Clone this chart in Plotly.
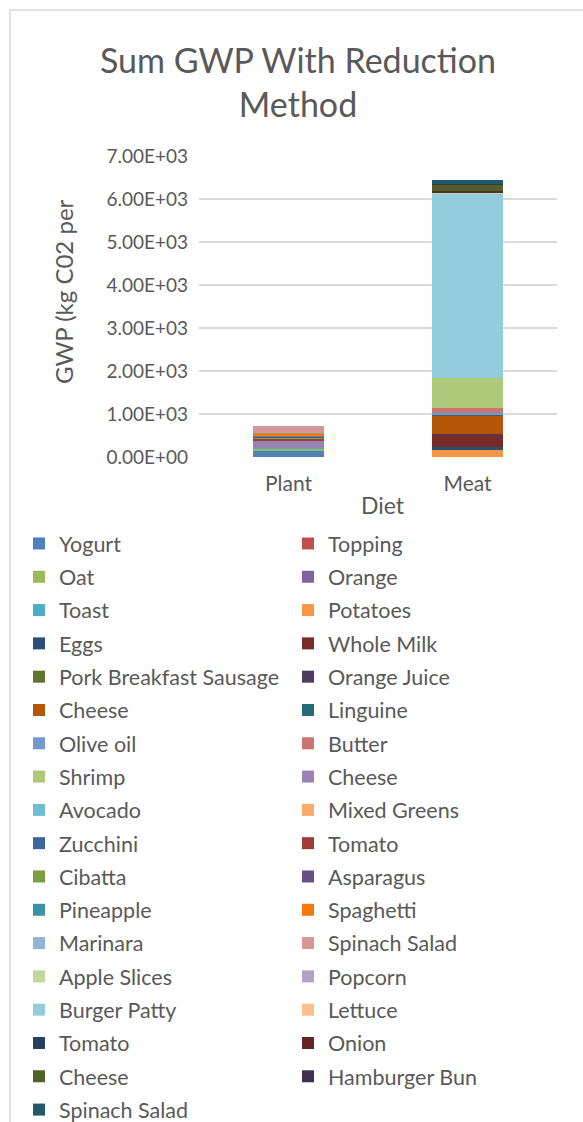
import plotly.graph_objects as go

# ---- data ----
categories = ["Plant", "Meat"]
series_names = ["Yogurt", "Topping", "Oat", "Orange", "Toast", "Potatoes", "Eggs", "Whole Milk",
                "Pork Breakfast Sausage", "Orange Juice", "Cheese", "Linguine", "Olive oil", "Butter",
                "Shrimp", "Cheese", "Avocado", "Mixed Greens", "Zucchini", "Tomato", "Cibatta",
                "Asparagus", "Pineapple", "Spaghetti", "Marinara", "Spinach Salad", "Apple Slices",
                "Popcorn", "Burger Patty", "Lettuce", "Tomato", "Onion", "Cheese", "Hamburger Bun",
                "Spinach Salad"]
plant_values = [147, 10, 30, 15, 10, 0, 0, 0, 0, 0, 0, 0, 0, 0, 0, 160, 20, 0, 0, 40, 10, 40, 5,
                85, 20, 110, 5, 5, 0, 0, 0, 0, 0, 0, 0]
meat_values = [0, 0, 0, 0, 0, 185, 40, 290, 0, 30, 420, 30, 40, 95, 700, 0, 0, 0, 0, 0, 0, 0, 0,
               0, 0, 0, 0, 0, 4300, 25, 10, 10, 160, 15, 95]
series_colors = ["#4F81BD", "#C0504D", "#9BBB59", "#8064A2", "#4BACC6", "#F79646", "#2C4D75",
                 "#772C2A", "#5F7530", "#4D3B62", "#B65708", "#276A7C", "#729ACA", "#CD7371",
                 "#AFC97A", "#9983B5", "#6FBDD1", "#F9AB6B", "#3A679C", "#9F3B38", "#7E9C40",
                 "#664F83", "#3A91A8", "#F27A0D", "#95B3D7", "#D99694", "#C3D69B", "#B3A2C7",
                 "#93CDDD", "#FAC090", "#254061", "#632523", "#4F6228", "#3F3151", "#215968"]
y_tick_values = [0, 1000, 2000, 3000, 4000, 5000, 6000, 7000]
y_tick_labels = ["0.00E+00", "1.00E+03", "2.00E+03", "3.00E+03", "4.00E+03", "5.00E+03",
                 "6.00E+03", "7.00E+03"]

W, H = 583, 1122
FONT = "Lato"
GREY = "#595959"
LEG_SIZE = 21.5

fig = go.Figure()
for i, name in enumerate(series_names):
    fig.add_trace(go.Bar(
        x=categories, y=[plant_values[i], meat_values[i]], name=name,
        marker=dict(color=series_colors[i], line=dict(width=0)),
        legend="legend" if i % 2 == 0 else "legend2",
        legendgroup="g%d" % i,
    ))

# plot area pixel geometry
L, R, T, B = 199, 557, 156, 457
def px_x(p):
    return (p - L) / (R - L)
def px_y(p):
    return 1 - (p - T) / (B - T)

row_h = LEG_SIZE * 1.3 + 3
leg_common = dict(
    xref="container", yref="container", orientation="v", yanchor="top", xanchor="left",
    bgcolor="rgba(0,0,0,0)", font=dict(family=FONT, size=LEG_SIZE, color=GREY),
    tracegroupgap=33.3 - row_h, itemclick=False, itemdoubleclick=False,
)

fig.update_layout(
    width=W, height=H, barmode="stack", bargap=0.6,
    paper_bgcolor="white", plot_bgcolor="white",
    margin=dict(l=L, r=W - R, t=T, b=H - B, autoexpand=False),
    font=dict(family=FONT, color=GREY),
    title=dict(text="Sum GWP With Reduction<br>Method", xref="container", yref="container",
               x=298 / W, y=1 - 73 / H, xanchor="center", yanchor="middle",
               font=dict(family=FONT, size=34, color=GREY)),
    xaxis=dict(showgrid=False, showline=False, zeroline=False, ticks="",
               tickfont=dict(family=FONT, size=21, color=GREY), ticklabelstandoff=12),
    yaxis=dict(range=[0, 7000], tickvals=y_tick_values, ticktext=y_tick_labels,
               showgrid=True, gridcolor="#D9D9D9", gridwidth=1.5, zeroline=False, showline=False,
               tickfont=dict(family=FONT, size=19, color=GREY), ticks="", ticklabelstandoff=10),
    legend=dict(**leg_common, x=19 / W, y=1 - 523 / H),
    legend2=dict(**leg_common, x=288 / W, y=1 - 523 / H),
    showlegend=True,
    annotations=[
        dict(text="GWP (kg C02 per", xref="paper", yref="paper", x=px_x(63), y=px_y(292),
             textangle=-90, showarrow=False, xanchor="center", yanchor="middle",
             font=dict(family=FONT, size=24, color=GREY)),
        dict(text="Diet", xref="paper", yref="paper", x=px_x(383), y=px_y(505),
             showarrow=False, xanchor="center", yanchor="middle",
             font=dict(family=FONT, size=23, color=GREY)),
    ],
    shapes=[dict(type="rect", xref="paper", yref="paper", x0=px_x(10), x1=px_x(620),
                 y0=px_y(1160), y1=px_y(10), line=dict(color="#D9D9D9", width=1.5),
                 fillcolor="rgba(0,0,0,0)", layer="below")],
)
for lg in ("legend", "legend2"):
    try:
        fig.update_layout({lg: dict(maxheight=1.0)})
    except Exception:
        pass

fig.write_html("out.html")
